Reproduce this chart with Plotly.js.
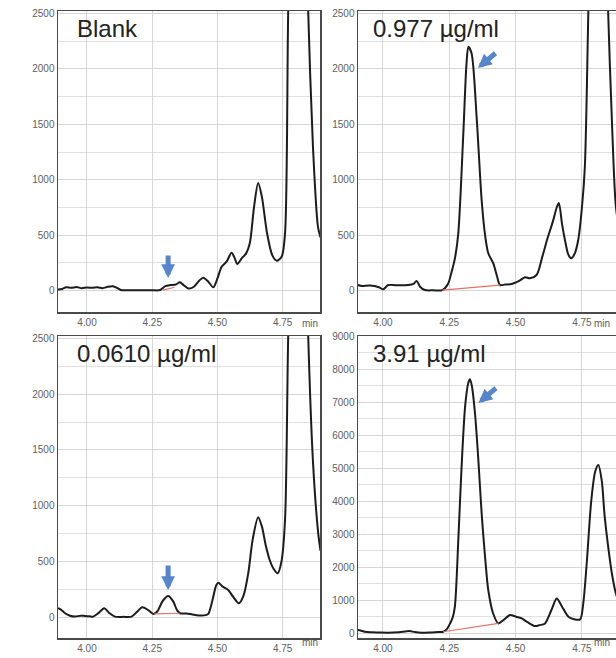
<!DOCTYPE html>
<html>
<head>
<meta charset="utf-8">
<script src="https://cdn.plot.ly/plotly-3.0.1.min.js"></script>
<style>
html,body{margin:0;padding:0;overflow:hidden;background:#fff;width:616px;height:658px;}
#chart{width:640px;height:658px;}
</style>
</head>
<body>
<div id="chart"></div>
<script>
// ---- data (retention time in min, signal) ----
const panelTitles = ["Blank", "0.977 µg/ml", "0.0610 µg/ml", "3.91 µg/ml"];
const xTickVals = [4.00, 4.25, 4.50, 4.75];

const blankX = [3.889,3.905,3.92,3.94,3.96,3.98,4.00,4.02,4.04,4.06,4.08,4.10,4.115,4.13,4.16,4.20,4.25,4.28,4.30,4.32,4.34,4.356,4.37,4.388,4.41,4.43,4.446,4.465,4.484,4.50,4.516,4.535,4.554,4.565,4.576,4.593,4.61,4.624,4.64,4.656,4.67,4.69,4.71,4.727,4.746,4.759,4.771,4.785,4.797,4.81,4.825,4.838,4.848,4.866,4.885,4.895];
const blankY = [10,15,30,25,32,22,28,25,30,22,35,40,25,5,3,3,3,5,40,50,55,75,50,20,35,90,117,80,30,110,216,261,342,300,240,291,336,427,750,970,850,520,320,270,306,517,2500,4000,4800,5100,4700,3600,2500,1300,580,480];

const c977X = [3.905,3.92,3.95,3.985,4.001,4.02,4.05,4.095,4.115,4.127,4.14,4.158,4.19,4.224,4.245,4.259,4.272,4.284,4.303,4.315,4.322,4.334,4.353,4.372,4.385,4.397,4.416,4.43,4.441,4.46,4.48,4.498,4.515,4.535,4.554,4.579,4.60,4.62,4.64,4.655,4.663,4.675,4.686,4.698,4.709,4.722,4.736,4.75,4.761,4.774,4.79,4.81,4.83,4.849,4.865,4.878,4.9];
const c977Y = [50,42,45,30,12,50,48,50,60,87,35,5,3,5,60,170,300,517,1420,2050,2200,2141,1570,818,500,337,246,130,50,55,58,71,90,120,111,141,300,470,620,750,790,600,457,330,292,330,457,750,1118,2500,4300,5100,4300,2500,1400,757,400];

const c0610X = [3.889,3.90,3.916,3.935,3.954,3.975,3.992,4.01,4.024,4.045,4.066,4.085,4.107,4.14,4.171,4.19,4.212,4.235,4.255,4.27,4.29,4.311,4.33,4.345,4.356,4.38,4.401,4.42,4.439,4.455,4.465,4.48,4.495,4.503,4.52,4.541,4.56,4.582,4.60,4.618,4.635,4.656,4.67,4.685,4.70,4.715,4.731,4.745,4.759,4.771,4.79,4.81,4.83,4.848,4.866,4.886,4.895];
const c0610Y = [87,75,42,20,12,20,18,15,12,45,87,45,12,10,12,50,96,70,36,60,150,196,150,70,42,40,33,25,21,25,36,150,290,315,280,250,190,131,200,399,700,900,820,650,520,440,400,500,875,2500,4300,5100,4300,2500,1400,760,600];

const c391X = [3.905,3.915,3.932,3.96,3.99,4.02,4.06,4.10,4.12,4.146,4.18,4.21,4.227,4.24,4.253,4.262,4.271,4.285,4.297,4.31,4.322,4.328,4.335,4.347,4.36,4.372,4.385,4.397,4.415,4.435,4.455,4.479,4.50,4.523,4.545,4.573,4.59,4.611,4.635,4.655,4.675,4.699,4.72,4.743,4.755,4.768,4.785,4.80,4.812,4.825,4.835,4.849,4.863,4.878,4.9];
const c391Y = [91,80,40,25,15,10,25,60,30,10,20,35,40,110,293,450,797,3000,5140,6900,7600,7700,7500,6660,5200,3630,2300,1300,600,293,400,545,500,444,330,212,240,293,700,1050,800,494,420,415,900,2110,4000,4900,5100,4600,3600,2615,1800,1200,700];

// integration baselines (red)
const blankBaseX = [4.292, 4.335], blankBaseY = [5, 30];
const c977BaseX = [4.224, 4.441], c977BaseY = [5, 50];
const c0610BaseX = [4.258, 4.356], c0610BaseY = [36, 42];
const c391BaseX = [4.227, 4.435], c391BaseY = [40, 293];

// arrow tips (data coords) marking the analyte peak
const arrowX = [4.311, 4.358, 4.311, 4.36];
const arrowY = [114, 2009, 250, 6980];

const yTicks2500 = [0, 500, 1000, 1500, 2000, 2500];
const yTicks9000 = [0,1000,2000,3000,4000,5000,6000,7000,8000,9000];

// ---- layout geometry ----
const W = 640, H = 658;
const px = v => v / W, py = v => (H - v) / H;

const lineStyle = {color: '#1c1c1c', width: 2, shape: 'spline', smoothing: 0.8};
const redStyle = {color: '#e8706a', width: 1.2};

const traces = [
  {x: blankX, y: blankY, xaxis: 'x', yaxis: 'y', mode: 'lines', line: lineStyle},
  {x: blankBaseX, y: blankBaseY, xaxis: 'x', yaxis: 'y', mode: 'lines', line: redStyle},
  {x: c977X, y: c977Y, xaxis: 'x2', yaxis: 'y2', mode: 'lines', line: lineStyle},
  {x: c977BaseX, y: c977BaseY, xaxis: 'x2', yaxis: 'y2', mode: 'lines', line: redStyle},
  {x: c0610X, y: c0610Y, xaxis: 'x3', yaxis: 'y3', mode: 'lines', line: lineStyle},
  {x: c0610BaseX, y: c0610BaseY, xaxis: 'x3', yaxis: 'y3', mode: 'lines', line: redStyle},
  {x: c391X, y: c391Y, xaxis: 'x4', yaxis: 'y4', mode: 'lines', line: lineStyle},
  {x: c391BaseX, y: c391BaseY, xaxis: 'x4', yaxis: 'y4', mode: 'lines', line: redStyle}
];

const tickFont = {family: 'Liberation Sans, Arial, sans-serif', size: 10, color: '#606060'};
function xAxis(domain, range, anchor) {
  return {domain, range, anchor, tickvals: xTickVals, tickformat: '.2f', ticks: '', ticklen: 0,
    showgrid: true, gridcolor: '#d6d6d6', gridwidth: 1, zeroline: false,
    showline: true, mirror: true, linecolor: '#4a4a4a', linewidth: 1.5, tickfont: tickFont, fixedrange: true};
}
function yAxis(domain, range, anchor, tickvals, minorDtick) {
  return {domain, range, anchor, tickvals, ticks: '', ticklen: 0,
    showgrid: true, gridcolor: '#d6d6d6', gridwidth: 1, zeroline: false,
    minor: {dtick: minorDtick, tick0: 0, showgrid: true, gridcolor: '#e0e0e0', gridwidth: 1},
    showline: true, mirror: true, linecolor: '#4a4a4a', linewidth: 1.5, tickfont: tickFont, fixedrange: true};
}

const leftDom = [px(58), px(320)], rightDom = [px(358), px(622)];
const topDom = [py(312), py(11)], botDom = [py(638), py(336)];

const titleFont = {family: 'Liberation Sans, Arial, sans-serif', size: 24, color: '#222'};
const annotations = [
  {text: panelTitles[0], x: px(75), y: py(28.5), xref: 'paper', yref: 'paper', xanchor: 'left', yanchor: 'middle', showarrow: false, font: titleFont},
  {text: panelTitles[1], x: px(371), y: py(29), xref: 'paper', yref: 'paper', xanchor: 'left', yanchor: 'middle', showarrow: false, font: titleFont},
  {text: panelTitles[2], x: px(75), y: py(354), xref: 'paper', yref: 'paper', xanchor: 'left', yanchor: 'middle', showarrow: false, font: titleFont},
  {text: panelTitles[3], x: px(371), y: py(354), xref: 'paper', yref: 'paper', xanchor: 'left', yanchor: 'middle', showarrow: false, font: titleFont},
  {text: 'min', x: px(310), y: py(323), xref: 'paper', yref: 'paper', showarrow: false, font: tickFont},
  {text: 'min', x: px(612), y: py(323), xref: 'paper', yref: 'paper', showarrow: false, font: tickFont},
  {text: 'min', x: px(310), y: py(650), xref: 'paper', yref: 'paper', showarrow: false, font: tickFont},
  {text: 'min', x: px(612), y: py(650), xref: 'paper', yref: 'paper', showarrow: false, font: tickFont}
];
const arrowStyle = {text: '', showarrow: true, arrowhead: 2, arrowsize: 0.55, arrowwidth: 5, arrowcolor: '#5585cc', standoff: 0};
const arrowRefs = [['x','y',0,-24], ['x2','y2',19,-16], ['x3','y3',0,-26], ['x4','y4',19,-16]];
arrowRefs.forEach((r, i) => {
  annotations.push(Object.assign({}, arrowStyle, {x: arrowX[i], y: arrowY[i], xref: r[0], yref: r[1], ax: r[2], ay: r[3]}));
});

const layout = {
  width: W, height: H,
  margin: {l: 0, r: 0, t: 0, b: 0},
  paper_bgcolor: '#fff', plot_bgcolor: '#fff',
  showlegend: false,
  font: {family: 'Liberation Sans, Arial, sans-serif'},
  xaxis: xAxis(leftDom, [3.889, 4.893], 'y'),
  yaxis: yAxis(topDom, [-193, 2523], 'x', yTicks2500, 250),
  xaxis2: xAxis(rightDom, [3.906, 4.901], 'y2'),
  yaxis2: yAxis(topDom, [-193, 2523], 'x2', yTicks2500, 250),
  xaxis3: xAxis(leftDom, [3.889, 4.893], 'y3'),
  yaxis3: yAxis(botDom, [-179, 2518], 'x3', yTicks2500, 250),
  xaxis4: xAxis(rightDom, [3.906, 4.901], 'y4'),
  yaxis4: yAxis(botDom, [-150, 9010], 'x4', yTicks9000, 500),
  annotations
};

Plotly.newPlot('chart', traces, layout, {staticPlot: true, displayModeBar: false});
</script>
</body>
</html>
